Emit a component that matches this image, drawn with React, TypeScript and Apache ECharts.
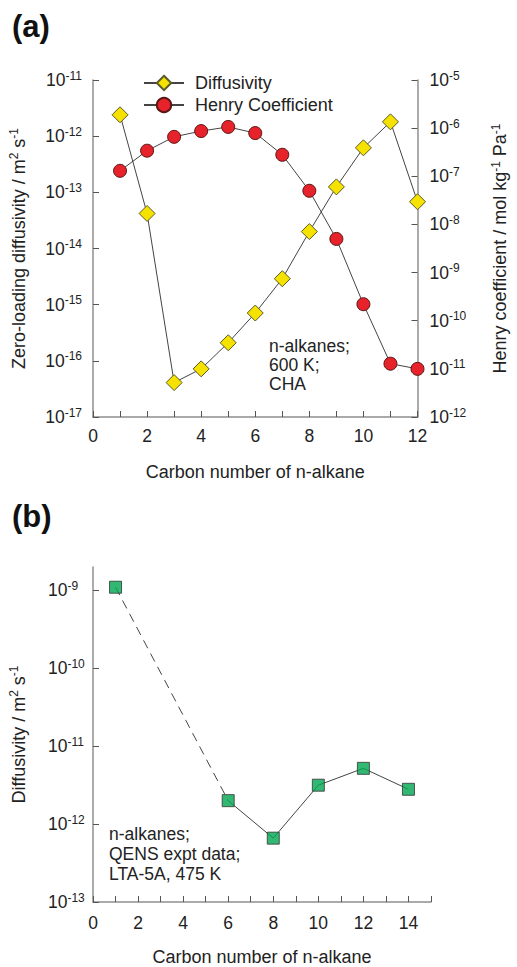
import React, { useEffect, useRef } from "react";
import * as echarts from "echarts";

const carbonA = [1, 2, 3, 4, 5, 6, 7, 8, 9, 10, 11, 12];
const diffusivity = [2.4e-12, 4.2e-14, 4.1e-17, 7.2e-17, 2.1e-16, 7.1e-16, 2.9e-15, 2.0e-14, 1.25e-13, 6.2e-13, 1.8e-12, 6.8e-14];
const henry = [1.3e-7, 3.4e-7, 6.6e-7, 8.7e-7, 1.06e-6, 7.9e-7, 2.8e-7, 5.0e-8, 5.0e-9, 2.2e-10, 1.28e-11, 1.0e-11];

const carbonB = [1, 6, 8, 10, 12, 14];
const qens = [1.1e-9, 2.0e-12, 6.6e-13, 3.16e-12, 5.2e-12, 2.8e-12];

const leftTicksA = [1e-17, 1e-16, 1e-15, 1e-14, 1e-13, 1e-12, 1e-11];
const rightTicksA = [1e-12, 1e-11, 1e-10, 1e-9, 1e-8, 1e-7, 1e-6, 1e-5];
const ticksB = [1e-13, 1e-12, 1e-11, 1e-10, 1e-9];

const FONT = "'Liberation Sans', Arial, Helvetica, sans-serif";
const AXIS_GRAY = "#8f8f8f";
const TEXT = "#222";

const supRich = {
  s: { fontSize: 12, padding: [0, 0, 9, 0], fontFamily: FONT, color: TEXT },
};

const powLabel = (v: number) => {
  const e = Math.round(Math.log10(v));
  return "10{s|" + e + "}";
};

export default function App() {
  const ref = useRef<HTMLDivElement>(null);
  useEffect(() => {
    document.body.style.margin = "0";
    const chart = echarts.init(ref.current!, null, { renderer: "svg" });
    const axisLineStyle = { show: true, lineStyle: { color: AXIS_GRAY, width: 1.5 } };
    const tickStyle = { show: true, inside: true, length: 6, lineStyle: { color: "#555", width: 1 } };
    const valueX = (grid: number, max: number, labelMax: number, margin: number, nameGap: number) => ({
      type: "value",
      gridIndex: grid,
      min: 0,
      max,
      interval: 1,
      axisLine: { ...axisLineStyle, onZero: false },
      axisTick: tickStyle,
      splitLine: { show: false },
      axisLabel: {
        fontSize: 17.5,
        fontFamily: FONT,
        color: TEXT,
        margin,
        formatter: (v: number) => (v % 2 === 0 && v <= labelMax ? String(v) : ""),
      },
      name: "Carbon number of n-alkane",
      nameLocation: "middle",
      nameGap,
      nameTextStyle: { fontSize: 18, fontFamily: FONT, color: TEXT },
    });
    const logY = (grid: number, min: number, max: number, pos: string, ticks: number[], name: string, nameGap: number, margin: number, align?: string) => ({
      type: "log",
      logBase: 10,
      gridIndex: grid,
      min,
      max,
      position: pos,
      axisLine: { ...axisLineStyle, onZero: false },
      axisTick: { ...tickStyle, customValues: ticks },
      splitLine: { show: false },
      minorTick: { show: false },
      axisLabel: {
        customValues: ticks,
        formatter: powLabel,
        fontSize: 17.5,
        fontFamily: FONT,
        color: TEXT,
        margin,
        align,
        rich: supRich,
      },
      name,
      nameLocation: "middle",
      nameGap,
      nameRotate: 90,
      nameTextStyle: { fontSize: 18, fontFamily: FONT, color: TEXT, rich: supRich },
    });

    chart.setOption({
      animation: false,
      backgroundColor: "#ffffff",
      textStyle: { fontFamily: FONT },
      grid: [
        { left: 90, top: 80, width: 338, height: 337 },
        { left: 93, top: 567, width: 338, height: 335 },
      ],
      legend: {
        data: ["Diffusivity", "Henry Coefficient"],
        orient: "vertical",
        left: 143,
        top: 74,
        padding: 0,
        itemWidth: 40,
        itemHeight: 18,
        itemGap: 4,
        textStyle: { fontSize: 18, fontFamily: FONT, color: TEXT, padding: [0, 0, 0, 6] },
      },
      xAxis: [valueX(0, 12, 12, 10, 46), valueX(1, 15, 14, 12, 46)],
      yAxis: [
        logY(0, 1e-17, 1e-11, "left", leftTicksA, "Zero-loading diffusivity / m{s|2} s{s|-1}", 64, 11),
        logY(0, 1e-12, 1e-5, "right", rightTicksA, "Henry coefficient / mol kg{s|-1} Pa{s|-1}", 72, 12),
        logY(1, 1e-13, 2e-9, "left", ticksB, "Diffusivity / m{s|2} s{s|-1}", 64, 45, "left"),
      ],
      series: [
        {
          name: "Diffusivity",
          type: "line",
          xAxisIndex: 0,
          yAxisIndex: 0,
          data: carbonA.map((c, i) => [c, diffusivity[i]]),
          symbol: "diamond",
          symbolSize: 16,
          itemStyle: { color: "#f5e200", borderColor: "#5a5a2a", borderWidth: 1 },
          lineStyle: { color: "#444", width: 1 },
          z: 3,
        },
        {
          name: "Henry Coefficient",
          type: "line",
          xAxisIndex: 0,
          yAxisIndex: 1,
          data: carbonA.map((c, i) => [c, henry[i]]),
          symbol: "circle",
          symbolSize: 13,
          itemStyle: { color: "#e6232a", borderColor: "#5a1515", borderWidth: 1 },
          lineStyle: { color: "#444", width: 1 },
          z: 3,
        },
        {
          name: "QENS dashed",
          type: "line",
          xAxisIndex: 1,
          yAxisIndex: 2,
          data: carbonB.slice(0, 2).map((c, i) => [c, qens[i]]),
          symbol: "none",
          lineStyle: { color: "#444", width: 1, type: [9, 6] },
          z: 2,
        },
        {
          name: "QENS",
          type: "line",
          xAxisIndex: 1,
          yAxisIndex: 2,
          data: carbonB.slice(1).map((c, i) => [c, qens[i + 1]]),
          symbol: "none",
          lineStyle: { color: "#444", width: 1 },
          z: 2,
        },
        {
          name: "QENS points",
          type: "scatter",
          xAxisIndex: 1,
          yAxisIndex: 2,
          data: carbonB.map((c, i) => [c, qens[i]]),
          symbol: "rect",
          symbolSize: 12,
          itemStyle: { color: "#00a651", borderColor: "#333", borderWidth: 1 },
          z: 4,
        },
      ],
      graphic: [
        { type: "text", left: 12, top: 11, style: { text: "(a)", fontSize: 31, fontWeight: "bold", fontFamily: FONT, fill: "#111" } },
        { type: "text", left: 12, top: 501, style: { text: "(b)", fontSize: 31, fontWeight: "bold", fontFamily: FONT, fill: "#111" } },
        { type: "text", left: 269, top: 336, style: { text: "n-alkanes;\n600 K;\nCHA", fontSize: 17.5, lineHeight: 19, fontFamily: FONT, fill: TEXT } },
        { type: "text", left: 109, top: 824, style: { text: "n-alkanes;\nQENS expt data;\nLTA-5A, 475 K", fontSize: 17.5, lineHeight: 20, fontFamily: FONT, fill: TEXT } },
      ],
    });
    return () => chart.dispose();
  }, []);
  return <div ref={ref} style={{ width: 517, height: 967 }} />;
}
